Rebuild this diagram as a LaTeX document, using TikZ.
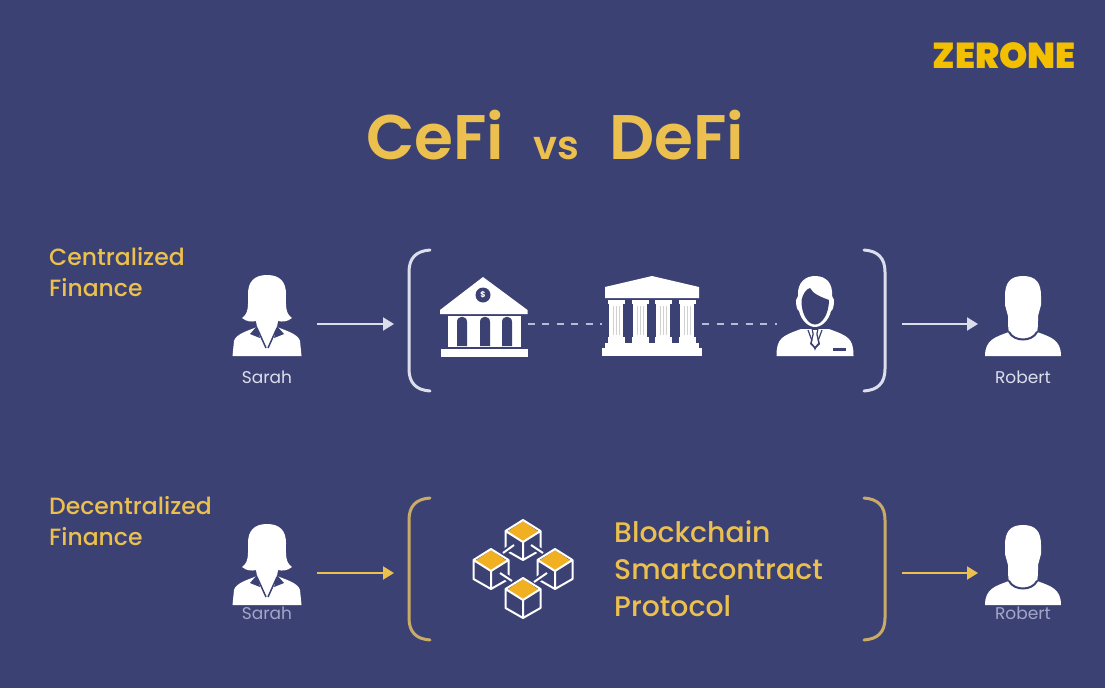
\documentclass[tikz,border=0pt]{standalone}
\usepackage{fontspec}
\setmainfont{Poppins}
\newfontfamily\medfont{Poppins Medium}
\newfontfamily\semifont{Poppins SemiBold}
\newfontfamily\brandfont{Poppins Black}
\usetikzlibrary{positioning,arrows.meta}
\definecolor{bgblue}{HTML}{3C4173}
\definecolor{gold}{HTML}{EBC04F}
\definecolor{tan}{HTML}{C9AB68}
\definecolor{cubegold}{HTML}{F0B021}
\definecolor{brand}{HTML}{F2C000}
\definecolor{pale}{HTML}{DDDEEB}
\definecolor{dashpale}{HTML}{B9BCD8}
\definecolor{lilac}{HTML}{A4A6C8}
\newcommand{\fs}[1]{\fontsize{#1}{#1}\selectfont}
\tikzset{
  iconbox/.style={minimum height=60pt, inner sep=0pt, outer sep=0pt},
  flowwhite/.style={draw=pale, line width=2pt, -{Triangle[length=11pt,width=13pt]}},
  flowgold/.style={draw=gold, line width=2pt, -{Triangle[length=11pt,width=13pt]}},
  linkdash/.style={draw=dashpale, line width=1.5pt, dash pattern=on 7pt off 7.5pt},
  brack/.style={line width=3pt, line cap=round},
  person/.style={text=pale, font=\fs{17}},
  sidelabel/.style={text=gold, font=\medfont\fs{23.5}, anchor=base west},
  chainlabel/.style={text=gold, font=\medfont\fs{28.3}, anchor=base west},
  woman/.pic={
    \fill[white] (0,-49) .. controls (-13,-49) and (-19,-42) .. (-19,-30)
      .. controls (-19,-18) and (-18,-11) .. (-25,-6)
      .. controls (-20,-2) and (-15,-2) .. (-11,-3)
      -- (-10,3) .. controls (-20,7) and (-31,10) .. (-33,17)
      -- (-34.5,32) -- (34.5,32) -- (33,17)
      .. controls (31,10) and (20,7) .. (10,3)
      -- (11,-3) .. controls (15,-2) and (20,-2) .. (25,-6)
      .. controls (18,-11) and (19,-18) .. (19,-30)
      .. controls (19,-42) and (13,-49) .. (0,-49) -- cycle;
    \draw[bgblue, line width=1.5pt] (-10,4) -- (-1,24) (10,4) -- (1,24);
    \fill[bgblue] (-10,2) -- (-17,10) -- (-7,14) -- cycle (10,2) -- (17,10) -- (7,14) -- cycle;
  },
  man/.pic={
    \fill[white] (0,-48) .. controls (-13,-48) and (-18,-41) .. (-18,-28)
      -- (-18,-19) -- (-15,-8) .. controls (-15,0) and (-15,4) .. (-14,8)
      .. controls (-28,13) and (-38,16) .. (-38,32) -- (38,32)
      .. controls (38,16) and (28,13) .. (14,8)
      .. controls (15,4) and (15,0) .. (15,-8)
      -- (18,-19) -- (18,-28) .. controls (18,-41) and (13,-48) .. (0,-48) -- cycle;
    \draw[bgblue, line width=2pt, line cap=round] (-14,8) .. controls (-9,18) and (9,18) .. (14,8);
  },
  bank/.pic={
    \fill[white] (-1,-47) -- (-44,-14) -- (-44,-10) -- (43.5,-10) -- (43.5,-14) -- cycle;
    \fill[bgblue] (-1,-29) circle (7.5);
    \node (dollar) at (-1,-29) [text=white, font=\bfseries\fs{8}, inner sep=0pt] {\$};
    \fill[white] (-36.5,-8) rectangle (36.5,23);
    \foreach \xl in {-27,-4,18} {
      \fill[bgblue] (\xl,22) -- (\xl,-2) .. controls (\xl,-9) and (\xl+10,-9) .. (\xl+10,-2) -- (\xl+10,22) -- cycle;
    }
    \fill[white] (-43.5,25) rectangle (43.5,33);
  },
  temple/.pic={
    \fill[white] (0,-48) -- (-47,-37) -- (-47,-26) -- (47,-26) -- (47,-37) -- cycle;
    \foreach \xc in {-36,-12,11,35} {
      \fill[white] (\xc-8.5,-24) rectangle (\xc+8.5,-20);
      \fill[white] (\xc-7,-21) rectangle (\xc+7,13);
      \fill[white] (\xc-8.5,13) rectangle (\xc+8.5,19);
      \foreach \xg in {-3,0,3} {
        \draw[black!18, line width=.9pt] (\xc+\xg,-18) -- (\xc+\xg,11);
      }
    }
    \fill[white] (-47,19) rectangle (47,24);
    \fill[white] (-50,24) rectangle (50,32);
  },
  banker/.pic={
    \fill[white] (-38.5,32) .. controls (-38.5,14) and (-33,12) .. (-14,5)
      -- (14,5) .. controls (33,12) and (38.5,14) .. (38.5,32) -- cycle;
    \draw[bgblue, line width=1.2pt] (-7,6) -- (0,25) -- (7,6);
    \fill[bgblue] (-3.5,5) -- (3.5,5) -- (2.5,10) -- (5,20) -- (0,25) -- (-5,20) -- (-2.5,10) -- cycle;
    \fill[white] (-2,6) -- (2,6) -- (1.2,10) -- (3,19) -- (0,22.5) -- (-3,19) -- (-1.2,10) -- cycle;
    \fill[bgblue] (18,24) rectangle (31,27);
    \fill[white] (-17,-28) .. controls (-18,-42) and (-9,-48) .. (0,-48)
      .. controls (11,-48) and (18,-41) .. (17,-28)
      -- (19,-24) .. controls (19,-18) and (18,-14) .. (16,-13)
      .. controls (14,-4) and (7,3) .. (0,3)
      .. controls (-7,3) and (-14,-4) .. (-16,-13)
      .. controls (-18,-14) and (-19,-18) .. (-19,-24) -- cycle;
    \fill[bgblue] (-13.5,-24) .. controls (-12,-30) and (-9,-35) .. (-5,-36)
      .. controls (-2,-30) and (6,-27) .. (14,-24)
      .. controls (14,-10) and (7,0.5) .. (0,0.5)
      .. controls (-7,0.5) and (-14,-10) .. (-13.5,-24) -- cycle;
  },
  cube/.pic={
    \fill[cubegold] (0,-19) -- (-16,-8) -- (0,2) -- (16,-8) -- cycle;
    \draw[white, line width=2pt, line join=round]
      (0,-20) -- (-17.5,-9) -- (-17.5,10) -- (0,20) -- (17.5,10) -- (17.5,-9) -- cycle
      (-17.5,-9) -- (0,2) -- (17.5,-9) (0,2) -- (0,20);
  },
  chainlink/.style={preaction={draw=bgblue, line width=6pt}, draw=white, line width=2pt}
}
\begin{document}
\begin{tikzpicture}[x=1pt, y=-1pt]
  \useasboundingbox (0,0) rectangle (1105,688);
  \fill[bgblue] (0,0) rectangle (1105,688);

  \node(brandname) at (1004,56) [text=brand, font=\brandfont\fs{36}, inner sep=0pt] {ZERONE};
  \node(cefi) at (366,159) [anchor=base west, text=gold, font=\semifont\fs{63}, inner sep=0pt] {CeFi};
  \node(versus) at (533,159) [anchor=base west, text=gold, font=\semifont\fs{40}, inner sep=0pt] {vs};
  \node(defi) at (609,159) [anchor=base west, text=gold, font=\semifont\fs{63}, inner sep=0pt] {DeFi};

  \node(cen) at (49,265) [sidelabel, inner sep=0pt] {Centralized};
  \node(cenf) at (49,296) [sidelabel, inner sep=0pt] {Finance};
  \node(dec) at (49,514) [sidelabel, inner sep=0pt] {Decentralized};
  \node(decf) at (49,545) [sidelabel, inner sep=0pt] {Finance};

  % top row
  \node(sarahtop) at (267,324) [iconbox, minimum width=100pt] {};
  \pic at (sarahtop) {woman};
  \node(bank) at (484,324) [iconbox, minimum width=87pt] {};
  \pic at (bank) {bank};
  \node(temple) at (652,324) [iconbox, minimum width=100pt] {};
  \pic at (temple) {temple};
  \node(banker) at (815,324) [iconbox, minimum width=77pt] {};
  \pic at (banker) {banker};
  \node(roberttop) at (1023,324) [iconbox, minimum width=90pt] {};
  \pic at (roberttop) {man};
  \node(sarahtxt) at (267,377) [person, inner sep=0pt] {Sarah};
  \node(roberttxt) at (1023,377) [person, inner sep=0pt] {Robert};

  \node(brackla) at (419,324) [iconbox, minimum width=50pt] {};
  \node(brackra) at (875,324) [iconbox, minimum width=54pt] {};
  \draw[brack, pale] (430,250) .. controls (416,251) and (409,258) .. (409,272) -- (409,369) .. controls (409,383) and (416,390) .. (430,391);
  \draw[brack, pale] (864,250) .. controls (878,251) and (885,258) .. (885,272) -- (885,369) .. controls (885,383) and (878,390) .. (864,391);

  \draw[flowwhite] (sarahtop.east) -- (brackla.west);
  \draw[linkdash] (bank.east) -- (temple.west);
  \draw[linkdash] (temple.east) -- (banker.west);
  \draw[flowwhite] (brackra.east) -- (roberttop.west);

  % bottom row
  \node(sarahbot) at (267,573) [iconbox, minimum width=100pt] {};
  \pic at (sarahbot) {woman};
  \node(robertbot) at (1023,573) [iconbox, minimum width=90pt] {};
  \pic at (robertbot) {man};
  \node(sarahtxtb) at (267,613) [person, text=lilac, inner sep=0pt] {Sarah};
  \node(roberttxtb) at (1023,613) [person, text=lilac, inner sep=0pt] {Robert};

  \node(bracklb) at (419,573) [iconbox, minimum width=50pt] {};
  \node(brackrb) at (875,573) [iconbox, minimum width=54pt] {};
  \draw[brack, tan] (430,498) .. controls (416,499) and (409,506) .. (409,520) -- (409,618) .. controls (409,632) and (416,639) .. (430,640);
  \draw[brack, tan] (864,498) .. controls (878,499) and (885,506) .. (885,520) -- (885,618) .. controls (885,632) and (878,639) .. (864,640);

  \draw[flowgold] (sarahbot.east) -- (bracklb.west);
  \draw[flowgold] (brackrb.east) -- (robertbot.west);

  \pic at (523,540) {cube};
  \pic at (491,569) {cube};
  \pic at (555,569) {cube};
  \pic at (523,598) {cube};
  \draw[chainlink] (503,553) -- (514,545);
  \draw[chainlink] (531,545) -- (543,553);
  \draw[chainlink] (500,573) -- (512,581);
  \draw[chainlink] (547,573) -- (534,582);

  \node(chain) at (614,542) [chainlabel, inner sep=0pt] {Blockchain};
  \node(smart) at (614,579) [chainlabel, inner sep=0pt] {Smartcontract};
  \node(proto) at (614,616) [chainlabel, inner sep=0pt] {Protocol};
\end{tikzpicture}
\end{document}
